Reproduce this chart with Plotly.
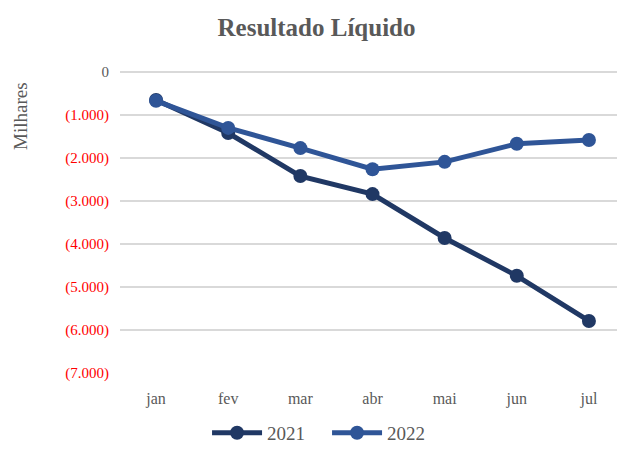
import plotly.graph_objects as go

months = ["jan", "fev", "mar", "abr", "mai", "jun", "jul"]
v2021 = [-650, -1420, -2420, -2840, -3860, -4740, -5790]
v2022 = [-670, -1300, -1770, -2260, -2090, -1670, -1580]
tick_vals = [0, -1000, -2000, -3000, -4000, -5000, -6000, -7000]
tick_text = ["0", "(1.000)", "(2.000)", "(3.000)", "(4.000)", "(5.000)", "(6.000)", "(7.000)"]

font = "Liberation Serif"
fig = go.Figure()
fig.add_trace(go.Scatter(x=months, y=v2021, name="2021", mode="lines+markers",
                         line=dict(color="#203864", width=5),
                         marker=dict(size=14, color="#203864")))
fig.add_trace(go.Scatter(x=months, y=v2022, name="2022", mode="lines+markers",
                         line=dict(color="#2F5597", width=5),
                         marker=dict(size=14, color="#2F5597")))

ticktext_col = [t if v == 0 else f'<span style="color:#FF0000">{t}</span>' for v, t in zip(tick_vals, tick_text)]

fig.update_layout(
    width=617, height=445,
    margin=dict(l=112, r=0, t=64, b=80, autoexpand=False),
    paper_bgcolor="white", plot_bgcolor="white",
    font=dict(family=font, color="#595959", size=16),
    title=dict(text="<b>Resultado Líquido</b>", x=0.5, xanchor="center", y=0.957, yanchor="middle",
               font=dict(size=25, color="#595959", family=font)),
    xaxis=dict(showgrid=False, showline=False, ticks="", tickfont=dict(size=16, color="#595959", family=font),
               range=[-0.5, 6.5], ticklabelstandoff=14),
    yaxis=dict(range=[-7000, 0], tickvals=tick_vals, ticktext=ticktext_col,
               showgrid=True, gridcolor="#D9D9D9", gridwidth=2,
               zeroline=True, zerolinecolor="#D9D9D9", zerolinewidth=2,
               tickfont=dict(size=15, color="#595959", family=font), ticklabelstandoff=10),
    legend=dict(orientation="h", x=0.41, xanchor="center", y=-0.262, yanchor="bottom",
                font=dict(size=19, color="#595959", family=font), itemwidth=50, entrywidth=55,
                borderwidth=0),
    showlegend=True,
)
fig.add_annotation(text="Milhares", textangle=-90,
                   x=(21 - 120) / 505, y=(373 - 116) / 301, xref="paper", yref="paper",
                   xanchor="center", yanchor="middle",
                   showarrow=False, font=dict(size=19, color="#595959", family=font))
fig.write_html("out.html")
